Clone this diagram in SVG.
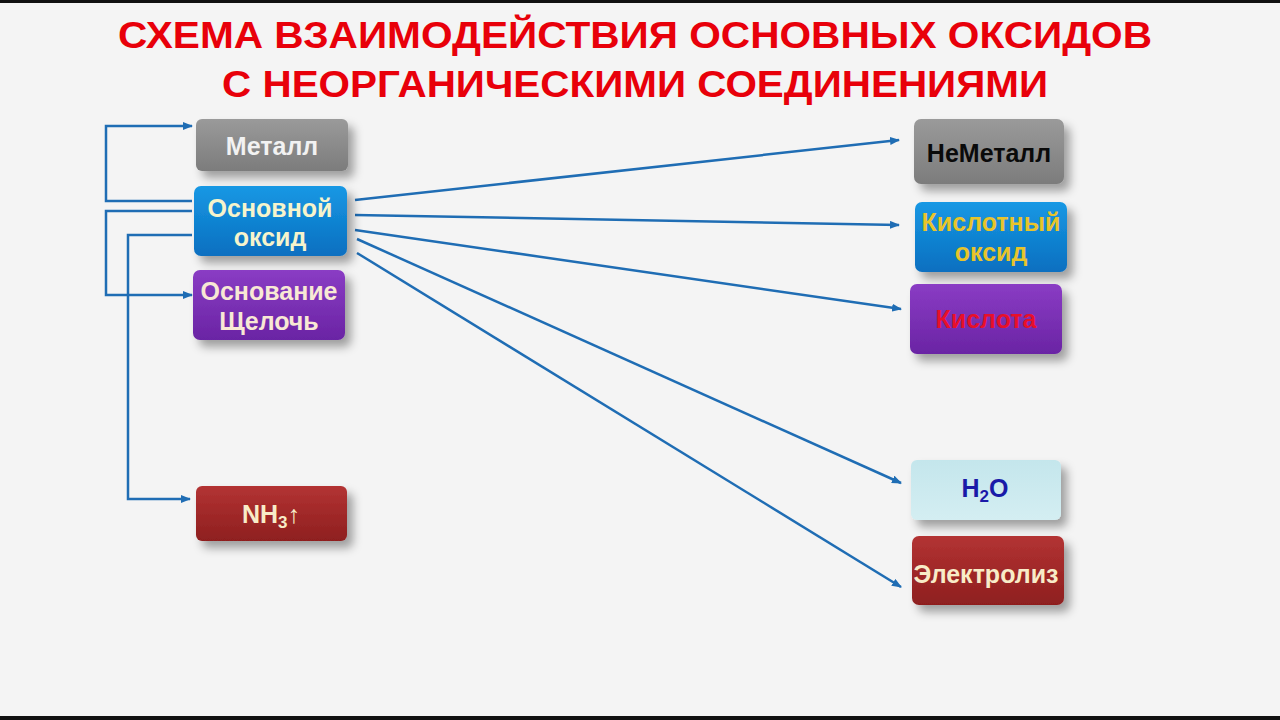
<svg xmlns="http://www.w3.org/2000/svg" width="1280" height="720" viewBox="0 0 1280 720">
<defs>
<style>
.t{font-family:"Liberation Sans",Arial,sans-serif;font-weight:bold;text-anchor:middle}
.title{font-size:37px;fill:#e8000a}
.lbl{font-size:25px}
.c{fill:none;stroke:#1f6db4;stroke-width:2.5}
</style>
<filter id="sh" x="-20%" y="-30%" width="150%" height="180%">
<feDropShadow dx="6" dy="7" stdDeviation="5" flood-color="#000" flood-opacity="0.35"/>
</filter>
<linearGradient id="gGray" x1="0" y1="0" x2="0" y2="1"><stop offset="0" stop-color="#9a9a9a"/><stop offset="1" stop-color="#7c7c7c"/></linearGradient>
<linearGradient id="gBlue" x1="0" y1="0" x2="0" y2="1"><stop offset="0" stop-color="#1798e4"/><stop offset="1" stop-color="#0a6fc0"/></linearGradient>
<linearGradient id="gPurp" x1="0" y1="0" x2="0" y2="1"><stop offset="0" stop-color="#8a3cc4"/><stop offset="1" stop-color="#6a24a4"/></linearGradient>
<linearGradient id="gRed" x1="0" y1="0" x2="0" y2="1"><stop offset="0" stop-color="#b33333"/><stop offset="1" stop-color="#8e1f1f"/></linearGradient>
<linearGradient id="gCyan" x1="0" y1="0" x2="0" y2="1"><stop offset="0" stop-color="#c4e6ec"/><stop offset="1" stop-color="#d4eef2"/></linearGradient>
<marker id="ah" markerWidth="10" markerHeight="8" refX="9" refY="4" orient="auto" markerUnits="userSpaceOnUse">
<path d="M0,0 L10,4 L0,8 Z" fill="#1f6db4"/>
</marker>
</defs>
<rect width="1280" height="720" fill="#f4f4f4"/>
<rect width="1280" height="3" fill="#111"/>
<rect y="716" width="1280" height="4" fill="#111"/>

<g id="title">
<text class="t title" x="635" y="48" textLength="1034" lengthAdjust="spacingAndGlyphs">СХЕМА ВЗАИМОДЕЙСТВИЯ ОСНОВНЫХ ОКСИДОВ</text>
<text class="t title" x="635" y="97" textLength="826" lengthAdjust="spacingAndGlyphs">С НЕОРГАНИЧЕСКИМИ СОЕДИНЕНИЯМИ</text>
</g>

<g id="connectors">
<polyline class="c" points="192,201 106,201 106,126 192,126" marker-end="url(#ah)"/>
<polyline class="c" points="192,211 106,211 106,295 192,295" marker-end="url(#ah)"/>
<polyline class="c" points="192,235 128,235 128,499 190,499" marker-end="url(#ah)"/>
<line class="c" x1="355" y1="200" x2="899" y2="140" marker-end="url(#ah)"/>
<line class="c" x1="355" y1="215" x2="899" y2="225" marker-end="url(#ah)"/>
<line class="c" x1="355" y1="230" x2="901" y2="309" marker-end="url(#ah)"/>
<line class="c" x1="357" y1="239" x2="901" y2="483" marker-end="url(#ah)"/>
<line class="c" x1="357" y1="253" x2="901" y2="587" marker-end="url(#ah)"/>
</g>

<g id="metal">
<rect x="196" y="119" width="152" height="52" rx="6" fill="url(#gGray)" filter="url(#sh)"/>
<text class="t lbl" x="272" y="155" fill="#f2f2f2">Металл</text>
</g>
<g id="basic-oxide">
<rect x="194" y="186" width="153" height="70" rx="7" fill="url(#gBlue)" filter="url(#sh)"/>
<text class="t lbl" x="270" y="217" fill="#f6f4cc">Основной</text>
<text class="t lbl" x="270" y="246" fill="#f6f4cc">оксид</text>
</g>
<g id="base">
<rect x="193" y="270" width="152" height="70" rx="7" fill="url(#gPurp)" filter="url(#sh)"/>
<text class="t lbl" x="269" y="300" fill="#f8e8d4">Основание</text>
<text class="t lbl" x="269" y="330" fill="#f8e8d4">Щелочь</text>
</g>
<g id="nh3">
<rect x="196" y="486" width="151" height="55" rx="6" fill="url(#gRed)" filter="url(#sh)"/>
<text class="t lbl" x="271" y="523" fill="#f8ecc8">NH<tspan font-size="17" dy="5">3</tspan><tspan dy="-5">↑</tspan></text>
</g>
<g id="nonmetal">
<rect x="914" y="119" width="150" height="65" rx="7" fill="url(#gGray)" filter="url(#sh)"/>
<text class="t lbl" x="989" y="162" fill="#0a0a0a">НеМеталл</text>
</g>
<g id="acid-oxide">
<rect x="915" y="202" width="152" height="70" rx="7" fill="url(#gBlue)" filter="url(#sh)"/>
<text class="t lbl" x="991" y="231" fill="#e8c42a">Кислотный</text>
<text class="t lbl" x="991" y="261" fill="#e8c42a">оксид</text>
</g>
<g id="acid">
<rect x="910" y="284" width="152" height="70" rx="7" fill="url(#gPurp)" filter="url(#sh)"/>
<text class="t lbl" x="986" y="328" fill="#e8102a">Кислота</text>
</g>
<g id="water">
<rect x="911" y="460" width="150" height="60" rx="6" fill="url(#gCyan)" filter="url(#sh)"/>
<text class="t lbl" x="985" y="497" fill="#1a1aa8">H<tspan font-size="17" dy="5">2</tspan><tspan dy="-5">O</tspan></text>
</g>
<g id="electrolysis">
<rect x="912" y="536" width="152" height="69" rx="7" fill="url(#gRed)" filter="url(#sh)"/>
<text class="t lbl" x="986" y="583" fill="#f8ecc8">Электролиз</text>
</g>
</svg>
